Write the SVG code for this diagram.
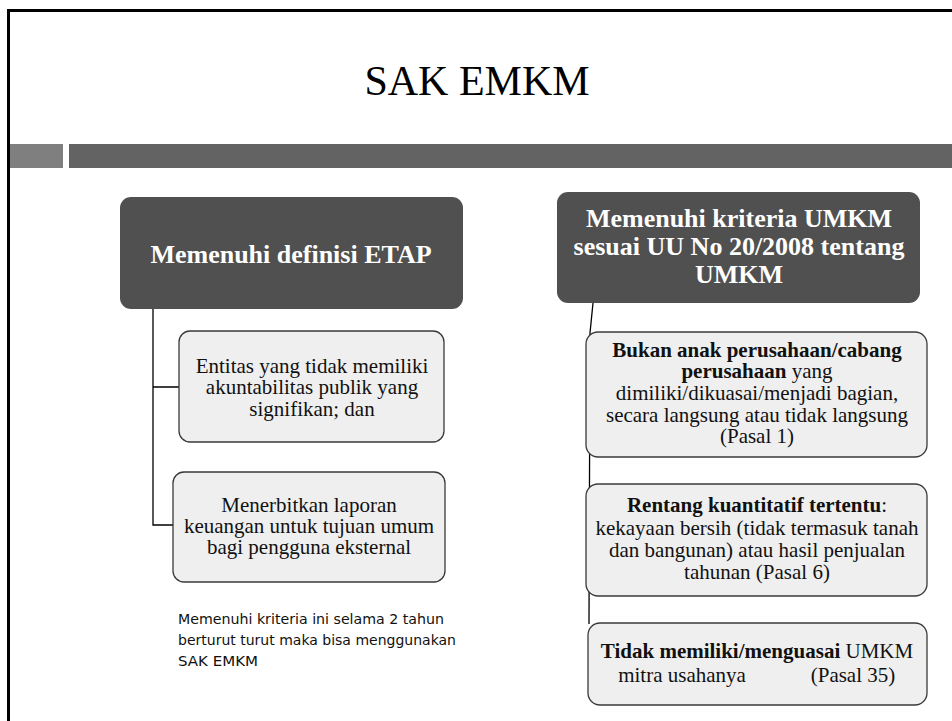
<svg xmlns="http://www.w3.org/2000/svg" width="952" height="721" viewBox="0 0 952 721">
<style>
.dark{fill:#505050;}
.child{fill:#efefef;stroke:#3a3a3a;stroke-width:1.3;}
.conn{fill:none;stroke:#000;stroke-width:1.3;}
.hd{font-family:"Liberation Serif",serif;font-weight:bold;font-size:26px;fill:#fff;text-anchor:middle;}
.tx{font-family:"Liberation Serif",serif;font-size:21px;fill:#111;text-anchor:middle;}
.b{font-weight:bold;}
.note{font-family:"DejaVu Sans",sans-serif;font-size:14px;fill:#111;}
</style>
<rect x="0" y="0" width="952" height="721" fill="#fff"/>
<rect x="8.5" y="10.5" width="970" height="740" fill="none" stroke="#000" stroke-width="3"/>
<rect x="10" y="144" width="53" height="24" fill="#7f7f7f"/>
<rect x="69" y="144" width="883" height="24" fill="#636363"/>
<text x="477" y="95" font-family="Liberation Serif, serif" font-size="42" fill="#000" text-anchor="middle">SAK EMKM</text>

<g id="connectors">
<path class="conn" d="M153,309 V525 H173 M153,387 H179"/>
<path class="conn" d="M593,303 L590,333 L589,624"/>
</g>

<g id="etap">
<rect class="dark" x="120" y="197" width="343" height="112" rx="11"/>
<text class="hd" x="291" y="263">Memenuhi definisi ETAP</text>
</g>
<g id="etap1" font-family="Liberation Serif, serif">
<rect class="child" x="179" y="331" width="265" height="111" rx="11"/>
<text class="tx" x="312" y="373">Entitas yang tidak memiliki</text>
<text class="tx" x="312" y="394">akuntabilitas publik yang</text>
<text class="tx" x="312" y="416">signifikan; dan</text>
</g>
<g id="etap2" font-family="Liberation Serif, serif">
<rect class="child" x="173" y="472" width="272" height="110" rx="11"/>
<text class="tx" x="309" y="512">Menerbitkan laporan</text>
<text class="tx" x="309" y="533">keuangan untuk tujuan umum</text>
<text class="tx" x="309" y="554">bagi pengguna eksternal</text>
</g>
<g id="note">
<text class="note" x="178" y="624" textLength="266" lengthAdjust="spacingAndGlyphs">Memenuhi kriteria ini selama 2 tahun</text>
<text class="note" x="178" y="645" textLength="278" lengthAdjust="spacingAndGlyphs">berturut turut maka bisa menggunakan</text>
<text class="note" x="178" y="666" textLength="80" lengthAdjust="spacingAndGlyphs">SAK EMKM</text>
</g>

<g id="umkm">
<rect class="dark" x="557" y="192" width="363" height="111" rx="11"/>
<text class="hd" x="739" y="227">Memenuhi kriteria UMKM</text>
<text class="hd" x="739" y="255">sesuai UU No 20/2008 tentang</text>
<text class="hd" x="739" y="283">UMKM</text>
</g>
<g id="umkm1" font-family="Liberation Serif, serif">
<rect class="child" x="586" y="332" width="341" height="125" rx="12"/>
<text class="tx" x="757" y="357"><tspan class="b">Bukan anak perusahaan/cabang</tspan></text>
<text class="tx" x="757" y="378"><tspan class="b">perusahaan</tspan> yang</text>
<text class="tx" x="757" y="400">dimiliki/dikuasai/menjadi bagian,</text>
<text class="tx" x="757" y="422">secara langsung atau tidak langsung</text>
<text class="tx" x="757" y="443">(Pasal 1)</text>
</g>
<g id="umkm2" font-family="Liberation Serif, serif">
<rect class="child" x="586" y="484" width="341" height="112" rx="12"/>
<text class="tx" x="757" y="512"><tspan class="b">Rentang kuantitatif  tertentu</tspan>:</text>
<text class="tx" x="757" y="535">kekayaan bersih (tidak termasuk tanah</text>
<text class="tx" x="757" y="557">dan bangunan) atau hasil penjualan</text>
<text class="tx" x="757" y="579">tahunan (Pasal 6)</text>
</g>
<g id="umkm3" font-family="Liberation Serif, serif">
<rect class="child" x="588" y="623" width="339" height="82" rx="12"/>
<text class="tx" x="757" y="658"><tspan class="b">Tidak memiliki/menguasai</tspan> UMKM</text>
<text class="tx" x="682" y="682">mitra usahanya</text>
<text class="tx" x="853" y="682">(Pasal 35)</text>
</g>
</svg>
